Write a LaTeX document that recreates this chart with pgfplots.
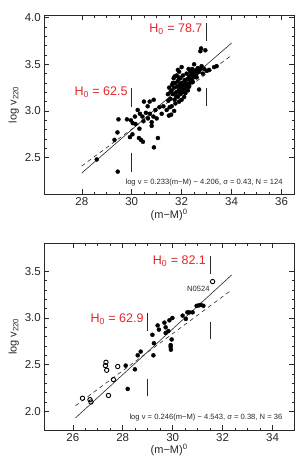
\documentclass[border=0pt]{standalone}
\usepackage{fontspec}
\setmainfont{Liberation Sans}
\usepackage{pgfplots}
\pgfplotsset{compat=1.18}
\definecolor{hred}{RGB}{228,38,42}
\definecolor{ink}{RGB}{40,40,40}
\pgfplotsset{
  ivstyle/.style={
    scale only axis, anchor=south west,
    width=249.7pt,
    axis line style={ink, line width=0.6pt},
    tick style={ink, line width=0.5pt},
    major tick length=5pt, minor tick length=2.5pt,
    tick align=inside,
    minor x tick num=3, minor y tick num=4,
    tick label style={font=\fontsize{11.5}{13}\selectfont, text=ink},
    label style={font=\fontsize{11}{13}\selectfont, text=ink},
    /pgf/number format/assume math mode=true,
    yticklabel style={/pgf/number format/.cd, fixed, fixed zerofill, precision=1},
    xticklabel style={/pgf/number format/.cd, fixed, precision=0},
    xlabel={(m\textminus M)\textsuperscript{0}},
    ylabel={log v\textsubscript{220}},
    xlabel style={yshift=4pt},
    ylabel style={yshift=-1pt},
    clip=false,
  },
  dots/.style={only marks, mark=*, mark size=2pt, black},
  odots/.style={only marks, mark=o, mark size=2.2pt, black, mark options={line width=0.9pt}},
}
\begin{document}
\begin{tikzpicture}[x=1pt,y=1pt]
\path[use as bounding box] (0,0) rectangle (296,458);
% ---------------- top panel ----------------
\begin{axis}[ivstyle, at={(44.3pt,263.7pt)}, height=179pt,
  xmin=26.5, xmax=36.5, ymin=2.107, ymax=4.025,
  xtick={28,30,32,34,36}, ytick={2.5,3.0,3.5,4.0}]
\addplot[dots] table {
x y
28.60 2.48
29.44 2.35
29.31 2.69
29.43 2.77
29.47 2.91
29.81 2.91
29.93 2.72
30.03 2.75
30.04 2.87
30.15 2.86
30.13 2.94
30.24 3.01
30.31 2.81
30.29 2.71
30.37 2.69
30.45 2.67
30.43 2.94
30.49 3.10
30.57 2.98
30.64 3.05
30.72 3.10
30.73 2.97
30.80 2.88
30.80 2.84
30.88 3.12
30.89 2.61
30.95 3.01
31.00 2.92
31.05 2.71
31.11 3.04
31.20 2.97
31.27 3.05
30.87 2.94
30.65 2.92
30.47 2.89
29.97 2.90
30.33 2.97
31.40 3.01
31.49 2.95
31.52 3.04
31.47 3.11
31.55 3.13
31.60 3.22
31.62 3.28
31.65 3.18
31.68 3.35
31.70 3.25
31.72 3.12
31.75 3.30
31.78 3.20
31.80 3.38
31.82 3.26
31.85 3.15
31.85 3.32
31.88 3.22
31.90 3.42
31.92 3.28
31.95 3.18
31.95 3.35
31.98 3.25
32.00 3.30
32.02 3.20
32.05 3.38
32.08 3.27
32.10 3.23
32.12 3.33
32.15 3.30
32.18 3.26
32.20 3.40
32.22 3.34
32.25 3.22
32.28 3.45
32.30 3.37
32.33 3.30
32.35 3.42
32.38 3.38
32.40 3.33
32.42 3.45
32.45 3.40
32.48 3.36
32.50 3.50
32.52 3.42
32.55 3.38
32.58 3.44
32.60 3.40
32.65 3.46
32.70 3.42
32.75 3.45
32.80 3.48
32.85 3.40
32.90 3.45
33.00 3.43
33.10 3.44
33.30 3.47
33.40 3.48
32.70 3.23
32.75 3.64
32.78 3.67
32.95 3.65
31.60 3.05
31.70 3.00
31.58 2.96
31.90 3.10
32.00 3.12
31.75 3.08
31.45 3.18
31.50 3.25
32.10 3.15
32.30 3.26
31.85 3.44
32.00 3.47
31.65 3.30
31.78 3.16
31.93 3.20
32.05 3.24
32.20 3.29
32.35 3.34
32.45 3.31
31.72 3.37
32.15 3.19
31.55 3.20
32.60 3.36
31.88 3.36
};
\addplot[ink, line width=0.6pt] coordinates {(28,2.335) (34,3.728)};
\addplot[ink, line width=0.6pt, dash pattern=on 4pt off 3.5pt] coordinates {(28,2.41) (34,3.596)};
\addplot[ink, line width=0.6pt] coordinates {(30,3.04) (30,3.25)};
\addplot[ink, line width=0.6pt] coordinates {(30,2.35) (30,2.55)};
\addplot[ink, line width=0.6pt] coordinates {(33,3.75) (33,3.94)};
\addplot[ink, line width=0.6pt] coordinates {(33,3.05) (33,3.25)};
\node[anchor=east, text=hred, font=\fontsize{12.5}{14}\selectfont, inner sep=1pt] at (axis cs:29.88,3.2) {H\textsubscript{0} = 62.5};
\node[anchor=east, text=hred, font=\fontsize{12.5}{14}\selectfont, inner sep=1pt] at (axis cs:32.88,3.88) {H\textsubscript{0} = 78.7};
\node[anchor=east, text=ink, font=\fontsize{7.6}{9}\selectfont, inner sep=0pt] at (axis cs:36.05,2.23) {log v = 0.233(m\textminus M) \textminus{} 4.206, σ = 0.43, N = 124};
\end{axis}
% ---------------- bottom panel ----------------
\begin{axis}[ivstyle, at={(44.3pt,28pt)}, height=186.7pt,
  xmin=24.86, xmax=34.86, ymin=1.80, ymax=3.80,
  xtick={26,28,30,32,34}, ytick={2.0,2.5,3.0,3.5}]
\addplot[odots] table {
x y
26.39 2.14
26.69 2.125
26.73 2.10
27.33 2.525
27.31 2.49
27.36 2.44
27.43 2.17
27.63 2.34
27.80 2.48
31.60 3.39
};
\addplot[dots] table {
x y
28.12 2.49
28.20 2.24
28.49 2.45
28.60 2.60
28.72 2.64
29.19 2.82
29.25 2.73
29.23 2.60
29.40 2.92
29.45 2.875
29.67 2.95
29.72 2.90
29.72 2.84
29.83 2.86
29.87 2.975
29.99 3.00
29.96 2.77
29.92 2.71
29.92 2.69
29.93 2.66
30.40 3.025
30.53 2.99
30.59 3.06
30.67 3.06
30.80 3.06
30.96 3.13
31.05 3.135
31.13 3.14
31.23 3.13
};
\addplot[ink, line width=0.6pt] coordinates {(26.11,1.93) (32.36,3.46)};
\addplot[ink, line width=0.6pt, dash pattern=on 4pt off 3.5pt] coordinates {(26.11,2.06) (32.36,3.30)};
\addplot[ink, line width=0.6pt] coordinates {(29,2.86) (29,3.05)};
\addplot[ink, line width=0.6pt] coordinates {(29,2.16) (29,2.35)};
\addplot[ink, line width=0.6pt] coordinates {(31.5,3.47) (31.5,3.66)};
\addplot[ink, line width=0.6pt] coordinates {(31.5,2.77) (31.5,2.96)};
\node[anchor=east, text=hred, font=\fontsize{12.5}{14}\selectfont, inner sep=1pt] at (axis cs:28.88,2.99) {H\textsubscript{0} = 62.9};
\node[anchor=east, text=hred, font=\fontsize{12.5}{14}\selectfont, inner sep=1pt] at (axis cs:31.38,3.61) {H\textsubscript{0} = 82.1};
\node[text=ink, font=\fontsize{7.6}{9}\selectfont, inner sep=0pt] at (axis cs:31.03,3.31) {N0524};
\node[anchor=east, text=ink, font=\fontsize{7.6}{9}\selectfont, inner sep=0pt] at (axis cs:34.40,1.93) {log v = 0.246(m\textminus M) \textminus{} 4.543, σ = 0.38, N = 36};
\end{axis}
\end{tikzpicture}
\end{document}
